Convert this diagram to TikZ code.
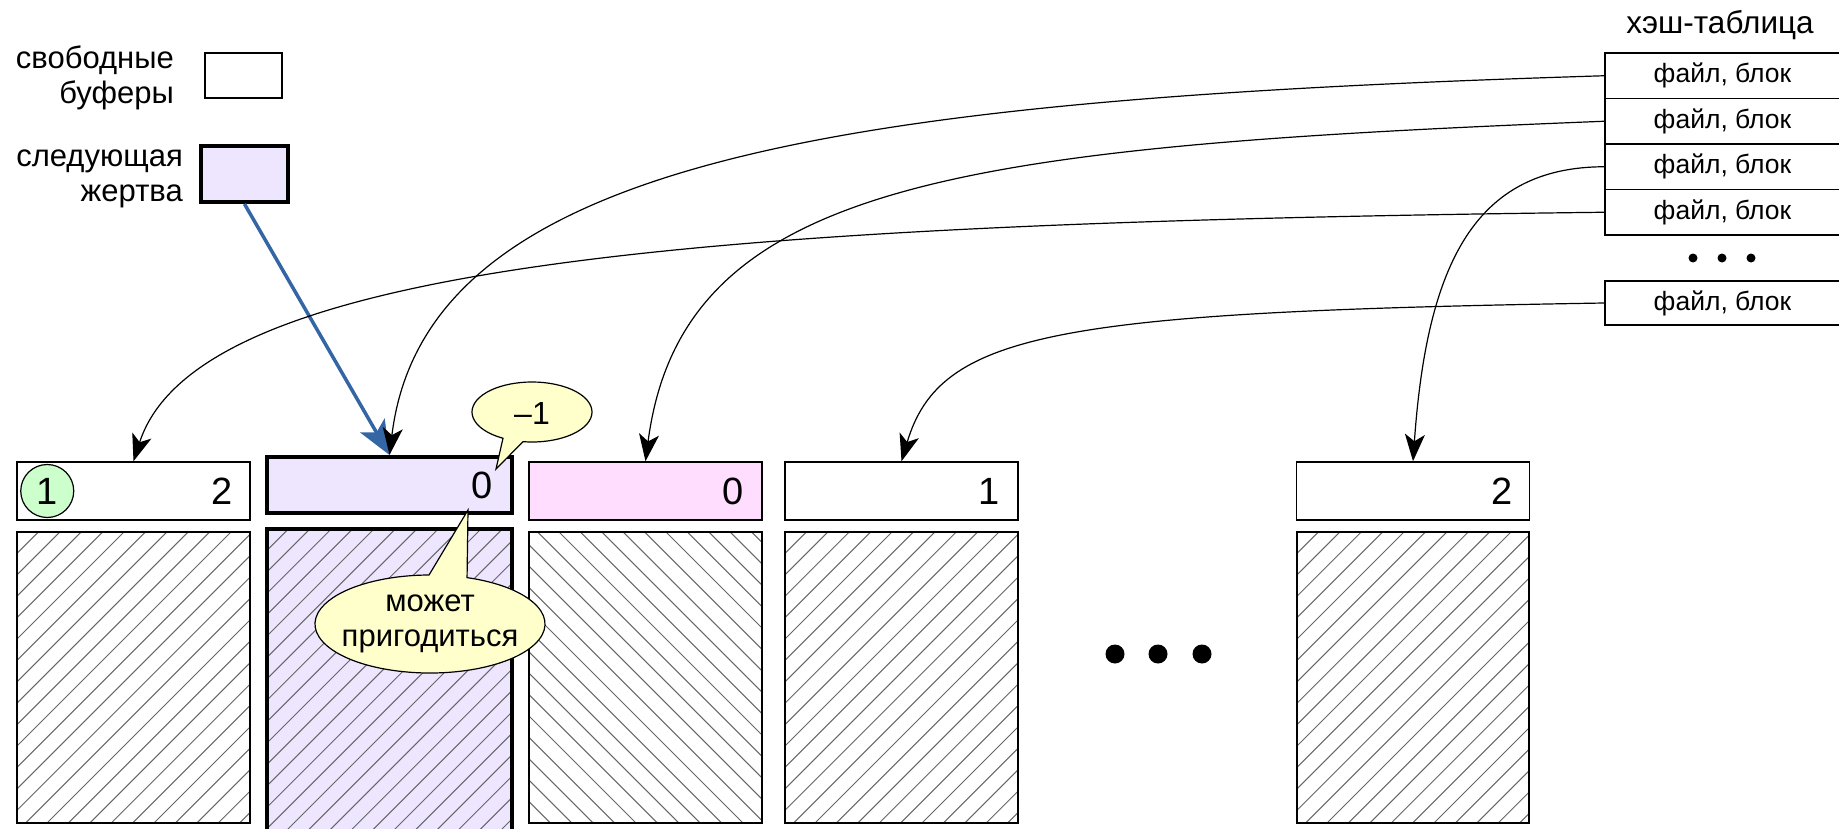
\documentclass[tikz,border=0pt]{standalone}
\usepackage{fontspec}
\setmainfont{Liberation Sans}
\usetikzlibrary{arrows.meta}
\definecolor{victim}{HTML}{EEE6FF}
\definecolor{pinkbuf}{HTML}{FFDDFF}
\definecolor{pinned}{HTML}{CCFFCC}
\definecolor{note}{HTML}{FFFFCC}
\definecolor{arrowblue}{HTML}{3465A4}
\definecolor{hatchgray}{HTML}{666666}

\newcommand{\myhatchNE}[4]{%
  \begin{scope}
    \clip (#1,#2) rectangle (#3,#4);
    \pgfmathsetmacro{\hhgt}{#4-#2}
    \pgfmathtruncatemacro{\nnum}{(#3-#1+\hhgt)/21.4+1}
    \foreach \i in {0,...,\nnum} {\draw[hatchline] ({#1-\hhgt+\i*21.4},#4) -- ++(\hhgt,-\hhgt);}
  \end{scope}}
\newcommand{\myhatchNW}[4]{%
  \begin{scope}
    \clip (#1,#2) rectangle (#3,#4);
    \pgfmathsetmacro{\hhgt}{#4-#2}
    \pgfmathtruncatemacro{\nnum}{(#3-#1+\hhgt)/21.4+1}
    \foreach \i in {0,...,\nnum} {\draw[hatchline] ({#1-\hhgt+\i*21.4},#2) -- ++(\hhgt,\hhgt);}
  \end{scope}}

\begin{document}
\begin{tikzpicture}[x=1pt,y=-1pt,
  font=\fontsize{31pt}{35pt}\selectfont,
  hdr/.style={draw=black, line width=1.5pt, minimum height=58pt, minimum width=233pt, inner sep=0pt},
  thickbox/.style={draw=black, line width=4pt, fill=victim, inner sep=0pt},
  thinbox/.style={draw=black, line width=1.5pt, fill=white, inner sep=0pt},
  rowbox/.style={draw=black, line width=1.5pt, minimum width=235pt, minimum height=45.5pt, inner sep=0pt, font=\fontsize{26.5pt}{28pt}\selectfont},
  num/.style={font=\fontsize{38pt}{40pt}\selectfont, inner sep=0pt},
  conn/.style={draw=black, line width=1.2pt, -{Stealth[length=27pt, width=20pt, inset=7pt]}},
  bluearrow/.style={draw=arrowblue, line width=3.5pt, -{Stealth[length=34pt, width=28pt, inset=8pt]}},
  callout/.style={draw=black, line width=1.2pt, fill=note},
  hatchline/.style={draw=hatchgray, line width=1pt},
  bodybox/.style={draw=black, line width=1.5pt},
  legendtext/.style={anchor=east, align=right, inner sep=0pt}
]
\useasboundingbox (0,0) rectangle (1839,829);

% legend
\node[legendtext] (lt1) at (174,77.7) {свободные\\буферы};
\node[thinbox, minimum width=77pt, minimum height=45pt] (lf) at (243.5,75.75) {};
\node[legendtext] (lt2) at (183,179.3) {следующая\\жертва};
\node[thickbox, minimum width=87pt, minimum height=56pt] (lv) at (244.5,174) {};

% hash table
\node[font=\fontsize{31.5pt}{33pt}\selectfont] (title) at (1720,25) {хэш-таблица};
\node[rowbox] (r1) at (1722.5,75.75) {файл, блок};
\node[rowbox] (r2) at (1722.5,121.25) {файл, блок};
\node[rowbox] (r3) at (1722.5,166.75) {файл, блок};
\node[rowbox] (r4) at (1722.5,212.25) {файл, блок};
\node[rowbox, minimum height=44pt] (r5) at (1722.5,303) {файл, блок};
\foreach \xx in {1693,1722,1751} {\fill (\xx,258) circle[radius=4.5pt];}

% buffer headers
\node[hdr] (h1) at (133.5,491) {};
\node[thickbox, minimum width=245pt, minimum height=56pt] (h2) at (389.5,485) {};
\node[hdr, fill=pinkbuf] (h3) at (645.5,491) {};
\node[hdr] (h4) at (901.5,491) {};
\node[hdr] (h5) at (1413,491) {};

\node[num] (n1) at ([xshift=-29pt]h1.east) {2};
\node[num] (n2) at ([xshift=-32pt]h2.east) {0};
\node[num] (n3) at ([xshift=-30pt]h3.east) {0};
\node[num] (n4) at ([xshift=-30pt]h4.east) {1};
\node[num] (n5) at ([xshift=-28pt]h5.east) {2};
\node[num, circle, draw=black, line width=1.2pt, fill=pinned, minimum size=53pt] (c1) at ([xshift=31pt]h1.west) {1};

% buffer bodies
\myhatchNE{17}{532}{250}{823}
\draw[bodybox] (17,532) rectangle (250,823);
\fill[victim] (267,529) rectangle (512,845);
\myhatchNE{267}{529}{512}{845}
\draw[draw=black, line width=4pt] (267,529) rectangle (512,845);
\myhatchNW{529}{532}{762}{823}
\draw[bodybox] (529,532) rectangle (762,823);
\myhatchNE{785}{532}{1018}{823}
\draw[bodybox] (785,532) rectangle (1018,823);
\myhatchNE{1297}{532}{1529}{823}
\draw[bodybox] (1297,532) rectangle (1529,823);

\foreach \xx in {1115,1158,1202} {\fill (\xx,654) circle[radius=9.5pt];}

% arrows
\draw[bluearrow] (lv.south) -- (h2.north);
\draw[conn] (r1.west) .. controls (856,99) and (426,155) .. (h2.north);
\draw[conn] (r2.west) .. controls (956,147) and (682,182) .. (h3.north);
\draw[conn] (r3.west) .. controls (1476,167) and (1427,262) .. (h5.north);
\draw[conn] (r4.west) .. controls (706,223) and (198,262) .. (h1.north);
\draw[conn] (r5.west) .. controls (1056,312) and (940,332) .. (h4.north);

% callouts
\draw[callout] (532,412) ++(118.9:60 and 30) arc[start angle=118.9, end angle=458.6, x radius=60, y radius=30] -- (496,469) -- cycle;
\node[font=\fontsize{32pt}{34pt}\selectfont] (m1) at (532,413) {–1};
\draw[callout] (430,624) ++(288.8:115 and 49) arc[start angle=288.8, end angle=629.5, x radius=115, y radius=49] -- (468,510) -- cycle;
\node[align=center, font=\fontsize{31pt}{35pt}\selectfont] (m2) at (430,624) {может\\пригодиться};
\end{tikzpicture}
\end{document}
